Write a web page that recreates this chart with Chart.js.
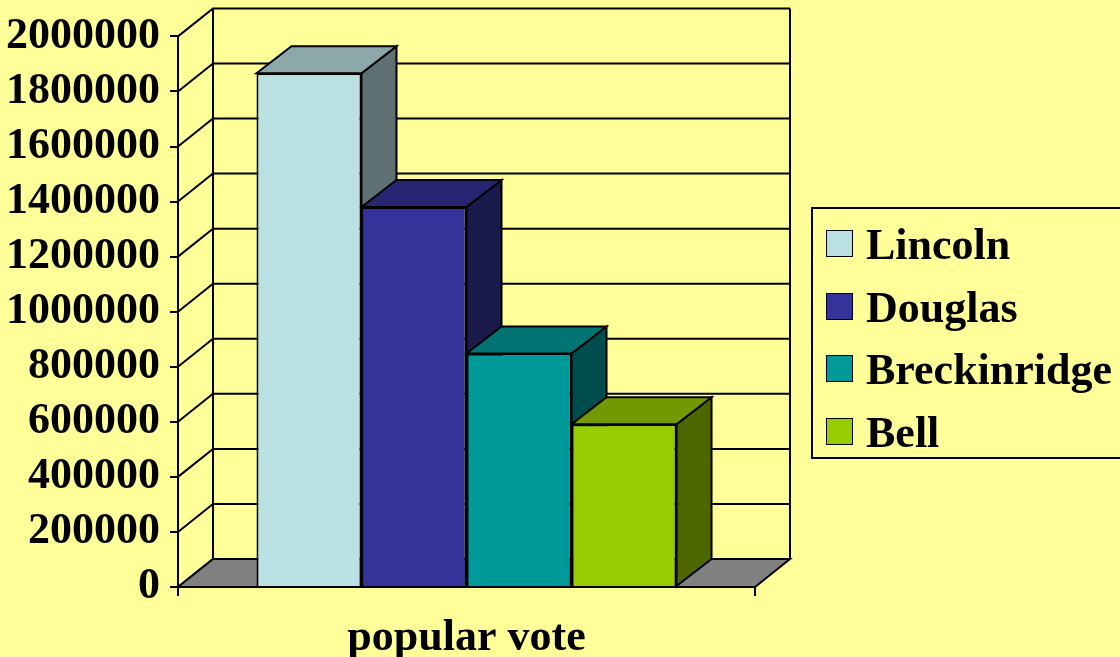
<!DOCTYPE html>
<html>
<head>
<meta charset="utf-8">
<script src="https://cdn.jsdelivr.net/npm/chart.js@4"></script>
<style>
  html, body { margin: 0; padding: 0; background: #FFFF99; overflow: hidden; }
  #wrap { position: relative; width: 1120px; height: 657px; }
  #legend {
    position: absolute; left: 811px; top: 207px; width: 330px; height: 248px;
    border: 2px solid #000; box-sizing: content-box;
    font: bold 44px "Liberation Serif", "Times New Roman", serif;
  }
  .item { position: absolute; left: 13px; height: 30px; }
  .item .box { position: absolute; left: 0; top: 0; width: 25px; height: 25px; border: 1.5px solid #000; }
  .item .txt { position: absolute; left: 40px; top: -10px; white-space: nowrap; line-height: 50px; }
</style>
</head>
<body>
<div id="wrap">
  <canvas id="chart" width="1120" height="657"></canvas>
  <div id="legend"></div>
</div>
<script>
const categories = ["popular vote"];
const candidates = ["Lincoln", "Douglas", "Breckinridge", "Bell"];
const votes = [1865908, 1380202, 848019, 590901];
const frontColors = ["#BBE0E3", "#333399", "#009999", "#99CC00"];
const topColors = ["#8CA8AA", "#262673", "#007373", "#739900"];
const sideColors = ["#5E7072", "#1A1A4D", "#004D4D", "#4D6600"];
const yMin = 0;
const yMax = 2000000;
const yStep = 200000;

const serif = '"Liberation Serif", "Times New Roman", serif';
const DX = 35, DY = 28;     // depth of the walls
const BDX = 35, BDY = 27;   // depth of the bars

function poly(ctx, pts, fill) {
    ctx.beginPath();
    ctx.moveTo(pts[0][0], pts[0][1]);
    for (let i = 1; i < pts.length; i++) ctx.lineTo(pts[i][0], pts[i][1]);
    ctx.closePath();
    if (fill) { ctx.fillStyle = fill; ctx.fill(); }
    ctx.stroke();
}

// walls, floor and the 3d faces of the bars
const box3d = {
    id: "box3d",
    beforeDatasetsDraw(chart) {
        const ctx = chart.ctx;
        const a = chart.chartArea;
        const y = chart.scales.y;
        ctx.save();
        ctx.strokeStyle = "#000";
        ctx.lineWidth = 2;

        // back wall grid + left wall diagonals
        y.ticks.forEach((t) => {
            const py = y.getPixelForValue(t.value);
            ctx.beginPath();
            ctx.moveTo(a.left, py);
            ctx.lineTo(a.left + DX, py - DY);
            ctx.lineTo(a.right + DX, py - DY);
            ctx.stroke();
        });
        ctx.beginPath();
        ctx.moveTo(a.left + DX, a.top - DY);
        ctx.lineTo(a.left + DX, a.bottom - DY);
        ctx.moveTo(a.right + DX, a.top - DY);
        ctx.lineTo(a.right + DX, a.bottom - DY);
        ctx.stroke();

        // floor
        poly(ctx, [
            [a.left, a.bottom],
            [a.left + DX, a.bottom - DY],
            [a.right + DX, a.bottom - DY],
            [a.right, a.bottom],
        ], "#808080");

        // side and top of each bar, left to right
        chart.data.datasets.forEach((ds, i) => {
            chart.getDatasetMeta(i).data.forEach((bar) => {
                const x1 = bar.x - bar.width / 2;
                const x2 = bar.x + bar.width / 2;
                const top = bar.y, base = bar.base;
                poly(ctx, [[x2, top], [x2 + BDX, top - BDY], [x2 + BDX, base - BDY], [x2, base]], sideColors[i]);
                poly(ctx, [[x1, top], [x1 + BDX, top - BDY], [x2 + BDX, top - BDY], [x2, top]], topColors[i]);
            });
        });
        ctx.restore();
    },
};

const chartData = {
    labels: categories,
    datasets: candidates.map((name, i) => ({
        label: name,
        data: [votes[i]],
        backgroundColor: frontColors[i],
        borderColor: "#000",
        borderWidth: 2,
        barPercentage: 1,
        categoryPercentage: 0.728,
    })),
};

new Chart(document.getElementById("chart"), {
    type: "bar",
    data: chartData,
    plugins: [box3d],
    options: {
        responsive: false,
        animation: false,
        layout: { padding: { top: 36, right: 365, left: 0, bottom: 0 } },
        plugins: {
            legend: { display: false },
            tooltip: { enabled: false },
        },
        scales: {
            x: {
                afterFit: (s) => { s.height = 70; },
                grid: { drawOnChartArea: false, tickLength: 9, color: "#000", lineWidth: 2 },
                border: { color: "#000", width: 2 },
                ticks: { color: "#000", padding: 16, font: { family: serif, size: 44, weight: "bold" } },
            },
            y: {
                min: yMin,
                max: yMax,
                afterFit: (s) => { s.width = 178; },
                grid: { drawOnChartArea: false, tickLength: 8, color: "#000", lineWidth: 2 },
                border: { color: "#000", width: 2 },
                ticks: {
                    stepSize: yStep,
                    autoSkip: false,
                    color: "#000",
                    padding: 10,
                    font: { family: serif, size: 44, weight: "bold" },
                    callback: (v) => String(v),
                },
            },
        },
    },
});

// legend box
const legend = document.getElementById("legend");
const rowTops = [21, 84, 146, 209];
candidates.forEach((name, i) => {
    const item = document.createElement("div");
    item.className = "item";
    item.style.top = rowTops[i] + "px";
    item.innerHTML = '<div class="box" style="background:' + frontColors[i] + '"></div><div class="txt">' + name + "</div>";
    legend.appendChild(item);
});
</script>
</body>
</html>
